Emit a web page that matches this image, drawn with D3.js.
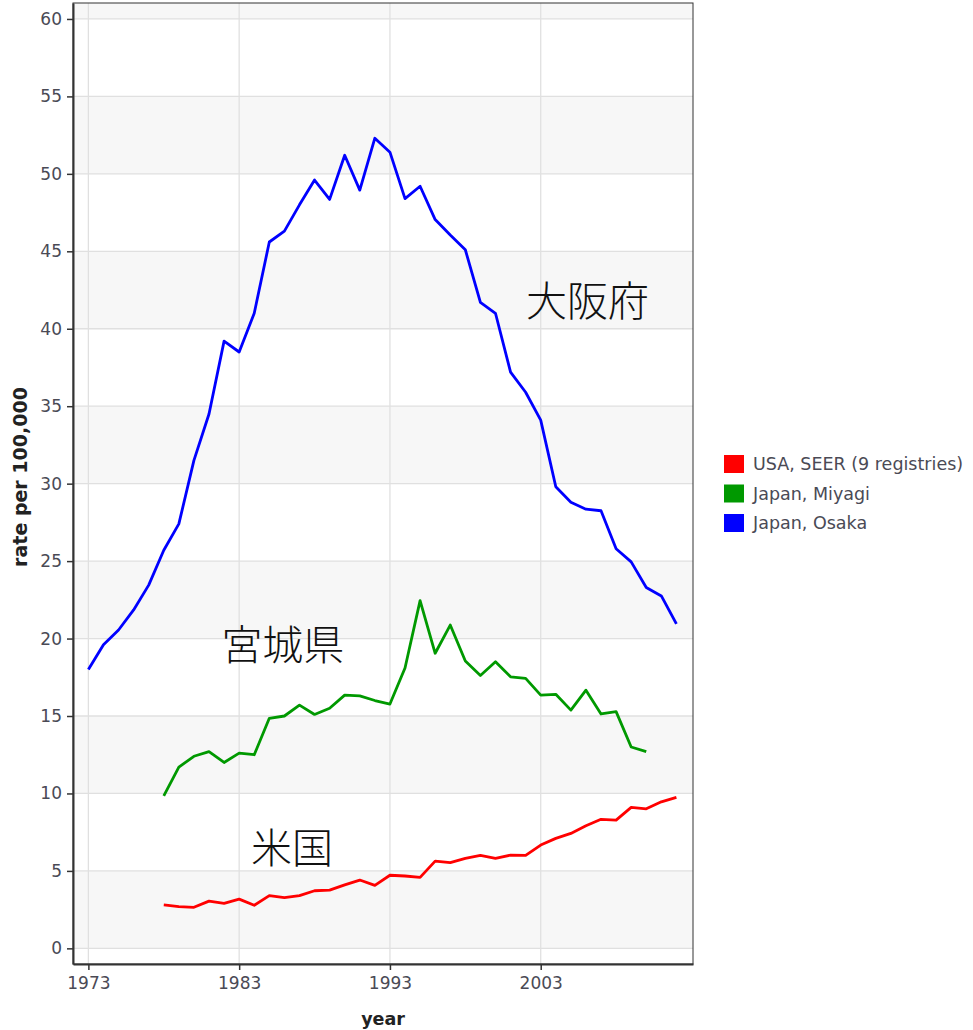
<!DOCTYPE html>
<html>
<head>
<meta charset="utf-8">
<script src="https://cdn.jsdelivr.net/npm/d3@7"></script>
<style>
  html, body { margin: 0; padding: 0; background: #fff; }
  svg { display: block; }
  .axis text { font-family: 'DejaVu Sans', Verdana, sans-serif; font-size: 17px; fill: #4a4a55; }
</style>
</head>
<body>
<svg id="chart" width="973" height="1030"></svg>
<script>
const osakaYears = d3.range(1973, 2013);
const osakaValues = [18.0, 19.6, 20.55, 21.85, 23.45, 25.7, 27.4, 31.5, 34.5, 39.2,
  38.5, 41.0, 45.6, 46.3, 48.0, 49.6, 48.35, 51.2, 48.95, 52.3,
  51.4, 48.4, 49.2, 47.05, 46.05, 45.1, 41.7, 41.0, 37.2, 35.9,
  34.1, 29.8, 28.8, 28.35, 28.25, 25.8, 24.95, 23.3, 22.75, 20.95];
const miyagiYears = d3.range(1978, 2011);
const miyagiValues = [9.85, 11.7, 12.4, 12.7, 12.0, 12.6, 12.5, 14.85, 15.0, 15.7,
  15.1, 15.5, 16.35, 16.3, 16.0, 15.77, 18.1, 22.45, 19.05, 20.87,
  18.55, 17.62, 18.5, 17.53, 17.43, 16.35, 16.4, 15.38, 16.67, 15.13,
  15.28, 13.0, 12.7];
const usaYears = d3.range(1978, 2013);
const usaValues = [2.8, 2.69, 2.65, 3.05, 2.9, 3.18, 2.78, 3.4, 3.27, 3.4,
  3.72, 3.76, 4.1, 4.41, 4.07, 4.72, 4.67, 4.58, 5.63, 5.53,
  5.81, 6.0, 5.81, 6.02, 6.0, 6.67, 7.1, 7.42, 7.91, 8.33,
  8.28, 9.1, 9.01, 9.46, 9.75];
const seriesNames = ["USA, SEER (9 registries)", "Japan, Miyagi", "Japan, Osaka"];
const seriesColors = ["#ff0000", "#009900", "#0000ff"];
const xTicks = [1973, 1983, 1993, 2003];
const yTicks = d3.range(0, 61, 5);
const annotations = [
  {text: "大阪府", year: 2006.1, value: 42.0},
  {text: "宮城県", year: 1985.9, value: 19.75},
  {text: "米国", year: 1986.5, value: 6.65}
];
const xTitle = "year";
const yTitle = "rate per 100,000";

const svg = d3.select("#chart");
const pLeft = 73, pRight = 693, pTop = 3, pBottom = 964;
const x = d3.scaleLinear().domain([1971.98, 2013.1]).range([pLeft, pRight]);
const y = d3.scaleLinear().domain([-1.01, 61.03]).range([pBottom, pTop]);
const font = "'DejaVu Sans', Verdana, sans-serif";

// panel background
svg.append("rect").attr("x", pLeft).attr("y", pTop)
  .attr("width", pRight - pLeft).attr("height", pBottom - pTop).attr("fill", "#ffffff");
// alternating bands
const bandStarts = [0, 10, 20, 30, 40, 50, 60];
const yMax = y.domain()[1];
svg.append("g").selectAll("rect").data(bandStarts).join("rect")
  .attr("x", pLeft)
  .attr("width", pRight - pLeft)
  .attr("y", d => y(Math.min(d + 5, yMax)))
  .attr("height", d => y(d) - y(Math.min(d + 5, yMax)))
  .attr("fill", "#f7f7f7");

// gridlines
const grid = svg.append("g").attr("stroke", "#e0e0e0").attr("stroke-width", 1.3);
grid.selectAll("line.h").data(yTicks).join("line").attr("class", "h")
  .attr("x1", pLeft).attr("x2", pRight)
  .attr("y1", d => y(d)).attr("y2", d => y(d));
grid.selectAll("line.v").data(xTicks).join("line").attr("class", "v")
  .attr("y1", pTop).attr("y2", pBottom)
  .attr("x1", d => x(d)).attr("x2", d => x(d));

// lines
const series = [
  {years: usaYears, values: usaValues},
  {years: miyagiYears, values: miyagiValues},
  {years: osakaYears, values: osakaValues}
];
const line = d3.line().x(d => x(d[0])).y(d => y(d[1]));
series.forEach((s, i) => {
  svg.append("path")
    .datum(s.years.map((yr, j) => [yr, s.values[j]]))
    .attr("d", line)
    .attr("fill", "none")
    .attr("stroke", seriesColors[i])
    .attr("stroke-width", 2.8)
    .attr("stroke-linejoin", "round");
});

// annotations
svg.append("g").selectAll("text").data(annotations).join("text")
  .attr("x", d => x(d.year)).attr("y", d => y(d.value))
  .attr("text-anchor", "middle")
  .attr("dominant-baseline", "central")
  .attr("font-family", "'Noto Sans CJK JP', sans-serif")
  .attr("font-weight", 300)
  .attr("font-size", 41)
  .attr("fill", "#111")
  .text(d => d.text);

// panel border
svg.append("rect").attr("x", pLeft).attr("y", pTop)
  .attr("width", pRight - pLeft).attr("height", pBottom - pTop)
  .attr("fill", "none").attr("stroke", "#333").attr("stroke-width", 1);

// axes
const yAxis = svg.append("g").attr("class", "axis").attr("transform", `translate(${pLeft},0)`)
  .call(d3.axisLeft(y).tickValues(yTicks).tickSize(6).tickSizeOuter(0).tickPadding(5));
const xAxis = svg.append("g").attr("class", "axis").attr("transform", `translate(0,${pBottom})`)
  .call(d3.axisBottom(x).tickValues(xTicks).tickFormat(d3.format("d")).tickSize(6).tickSizeOuter(0).tickPadding(7));
[yAxis, xAxis].forEach(a => {
  a.attr("font-size", 17).attr("font-family", font);
  a.select(".domain").attr("stroke", "#333").attr("stroke-width", 2);
  a.selectAll(".tick line").attr("stroke", "#333").attr("stroke-width", 1.5);
});

// axis titles
svg.append("text").attr("x", 383).attr("y", 1025)
  .attr("text-anchor", "middle")
  .style("font-family", font).style("font-weight", "bold").style("font-size", "17.5px")
  .attr("fill", "#222")
  .text(xTitle);
svg.append("text").attr("transform", "translate(27,477) rotate(-90)")
  .attr("text-anchor", "middle")
  .style("font-family", font).style("font-weight", "bold").style("font-size", "19px")
  .attr("fill", "#222")
  .text(yTitle);

// legend
const legend = svg.append("g").attr("transform", "translate(724,455)");
const items = legend.selectAll("g").data(seriesNames).join("g")
  .attr("transform", (d, i) => `translate(0,${i * 29.5})`);
items.append("rect").attr("width", 20).attr("height", 18)
  .attr("fill", (d, i) => seriesColors[i]);
items.append("text").attr("x", 29).attr("y", 9)
  .attr("dominant-baseline", "central")
  .style("font-family", font).style("font-size", "17.5px").attr("fill", "#4a4a55")
  .text(d => d);
</script>
</body>
</html>
